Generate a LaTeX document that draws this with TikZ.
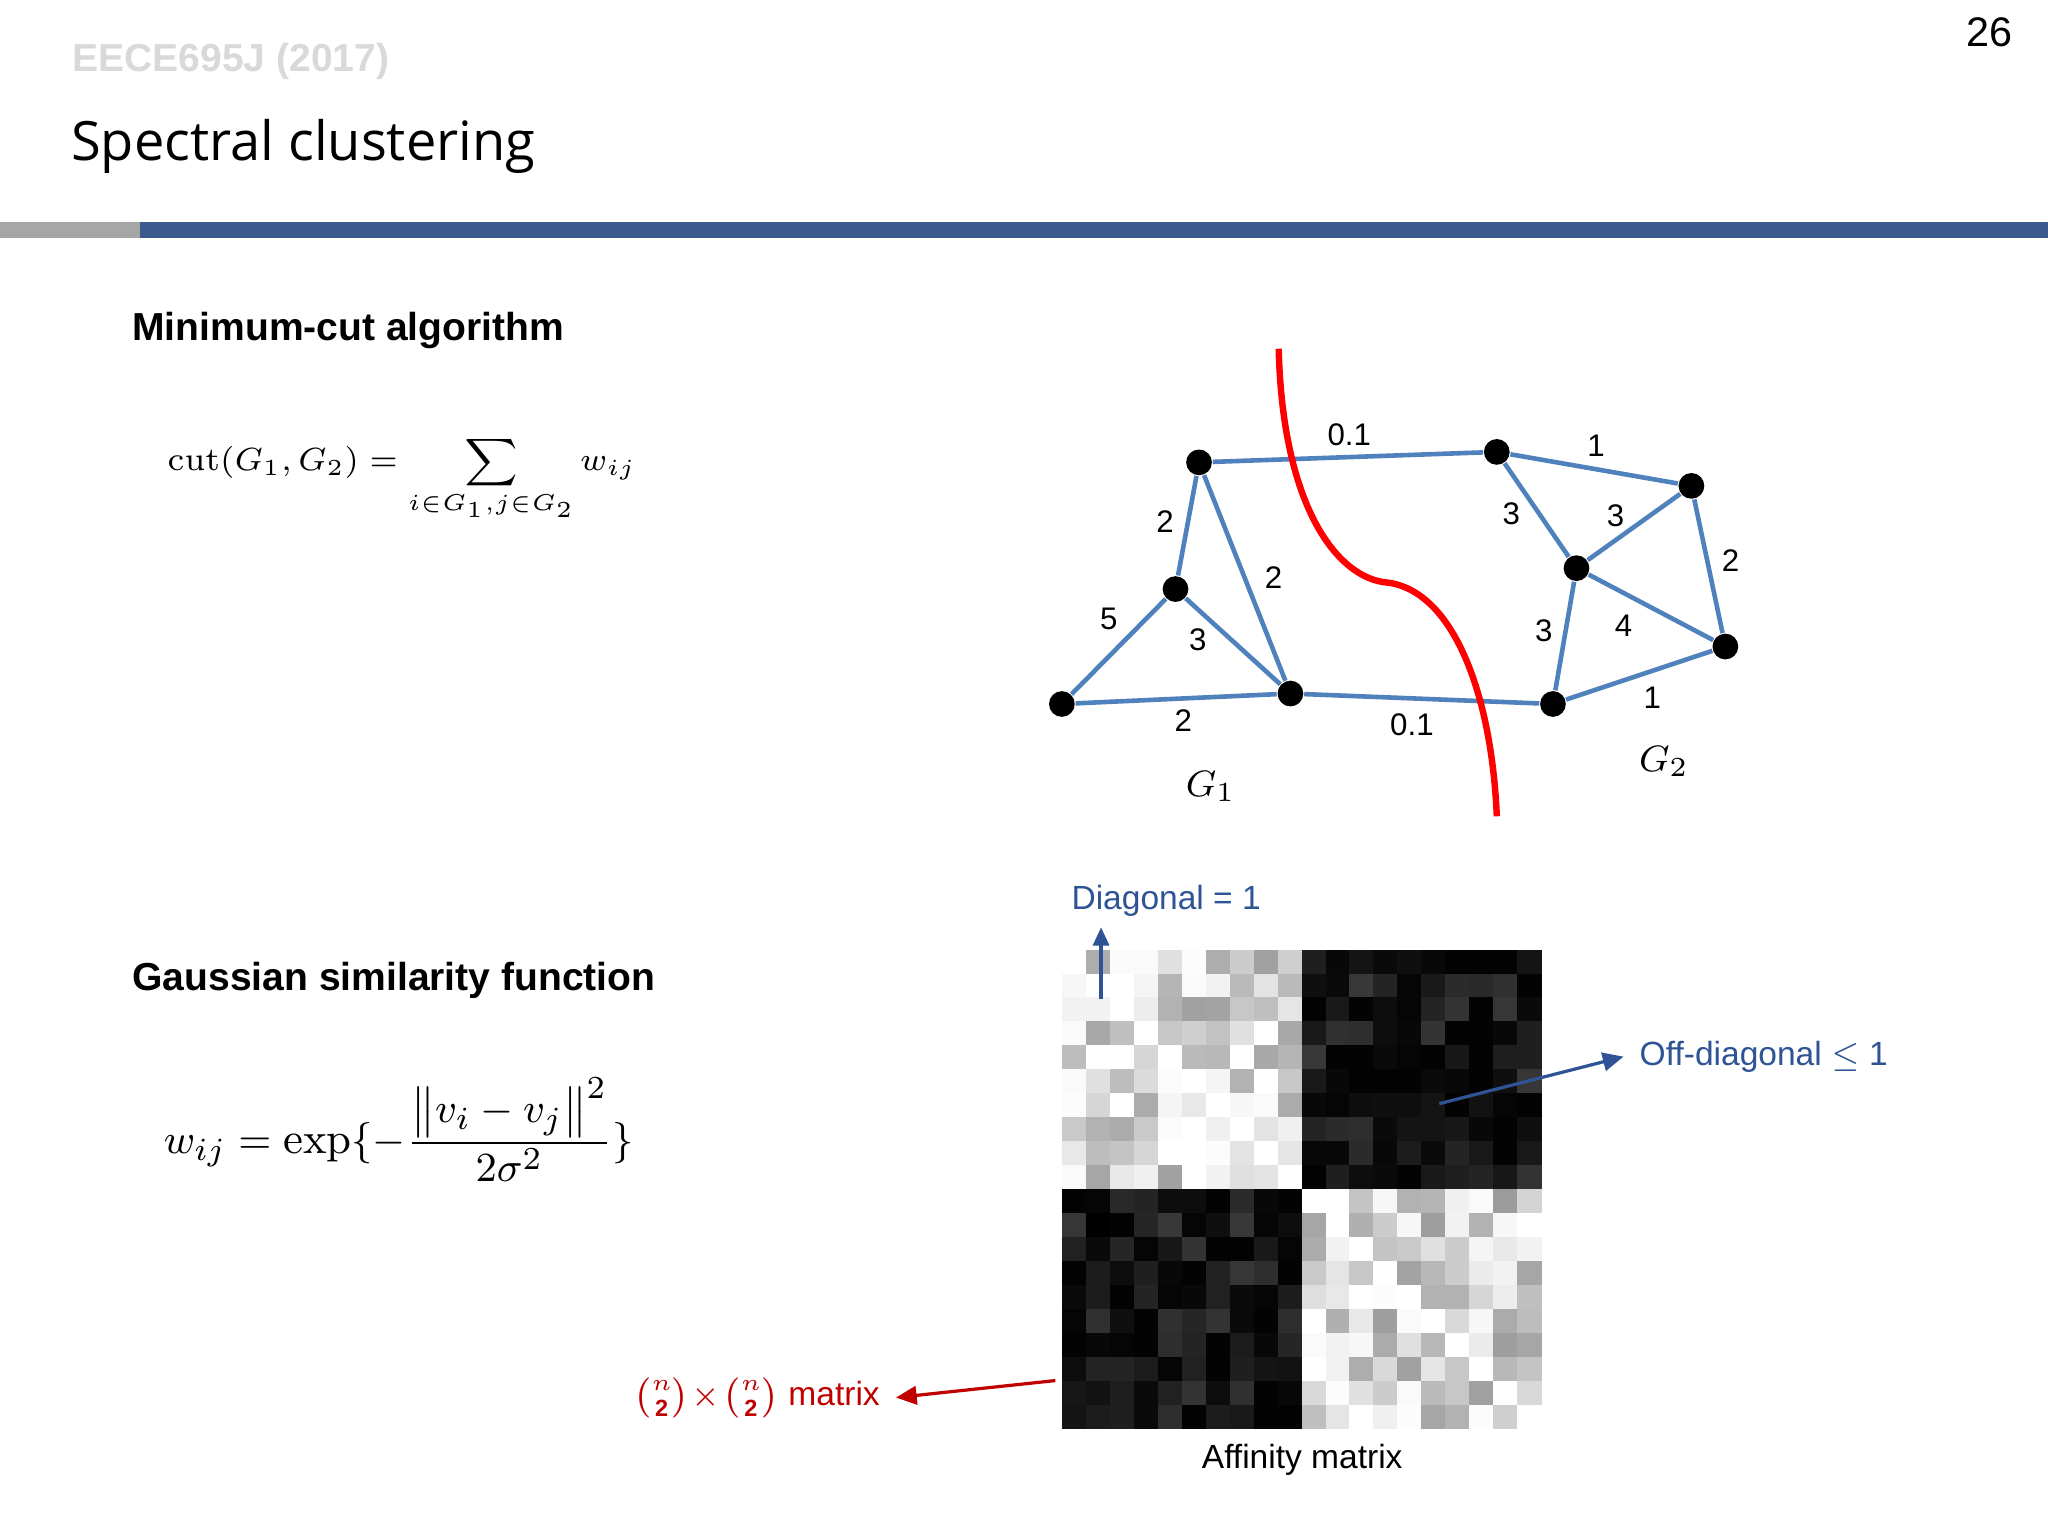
\documentclass[tikz,border=0pt]{standalone}
\usepackage{amsmath}
\usepackage{fontspec}
\setmainfont{Liberation Sans}
\newfontfamily\titlefont{Open Sans}
\newfontfamily\lmr{Latin Modern Roman}
\usetikzlibrary{arrows.meta}
\definecolor{gblue}{RGB}{79,129,189}
\definecolor{tblue}{RGB}{46,84,150}
\definecolor{barblue}{RGB}{59,89,140}
\definecolor{dred}{RGB}{192,0,0}
\tikzset{vtx/.style={circle,fill=black,inner sep=0pt,minimum size=5.6pt},
 edge/.style={gblue,line width=1pt},
 wlab/.style={font=\fontsize{6.8}{8}\selectfont},
 note/.style={font=\fontsize{7.3}{9}\selectfont}}
\begin{document}
\begin{tikzpicture}[x=0.01cm,y=-0.01cm]
\useasboundingbox (0,0) rectangle (1568,1176);
\fill[white] (0,0) rectangle (1568,1176);
\node[anchor=east,font=\fontsize{9}{11}\selectfont] (pg) at (1553,25) {26};
\node[anchor=west,text=black!15,font=\bfseries\fontsize{8.5}{10}\selectfont] (hd) at (43,47) {EECE695J (2017)};
\node[anchor=west,font=\titlefont\fontsize{11.8}{14}\selectfont] (tt) at (42,112) {Spectral clustering};
\fill[black!35] (0,170) rectangle (107,182);
\fill[barblue] (107,170) rectangle (1568,182);
\node[anchor=west,font=\bfseries\fontsize{8.5}{10}\selectfont] (h1) at (89,253) {Minimum-cut algorithm};
\node[anchor=west,font=\bfseries\fontsize{8.5}{10}\selectfont] (h2) at (89,751) {Gaussian similarity function};
\node[anchor=west,font=\fontsize{7.2}{9}\selectfont] (f1) at (116,367) {$\text{\lmr cut}(G_1,G_2)=\displaystyle\sum_{i\in G_1,j\in G_2} w_{ij}$};
\node[anchor=west,font=\fontsize{9.5}{11}\selectfont] (f2) at (113,865) {$w_{ij}=\text{\lmr exp}\{-\dfrac{\left\|v_i-v_j\right\|^2}{2\sigma^2}\}$};
% graph
\node[vtx] (A) at (918,354) {};
\node[vtx] (B) at (900,451) {};
\node[vtx] (C) at (813,539) {};
\node[vtx] (D) at (988,531) {};
\node[vtx] (E) at (1146,346) {};
\node[vtx] (F) at (1295,372) {};
\node[vtx] (G) at (1207,435) {};
\node[vtx] (H) at (1321,495) {};
\node[vtx] (I) at (1189,539) {};
\foreach \a/\b in {A/E,E/F,E/G,G/F,F/H,G/H,G/I,I/H,D/I,A/B,A/D,B/C,B/D,C/D}
  \draw[edge] (\a) -- (\b);
\foreach \t/\x/\y/\n in {0.1/1033/333/l1,1/1222/341/l2,3/1157/393/l3,3/1237/395/l4,2/1325/429/l5,4/1243/479/l6,3/1182/483/l7,1/1265/534/l8,0.1/1081/555/l9,2/892/399/l10,2/975/442/l11,5/849/474/l12,3/917/490/l13,2/906/552/l14}
  \node[wlab] (\n) at (\x,\y) {\t};
\node[font=\fontsize{8.5}{10}\selectfont] (g1) at (927,602) {$G_1$};
\node[font=\fontsize{8.5}{10}\selectfont] (g2) at (1274,583) {$G_2$};
\draw[red,line width=1.4pt] (979,267) .. controls (982,390) and (1025,443) .. (1062,446) .. controls (1112,452) and (1142,530) .. (1146,625);
% matrix
\pgfmathsetseed{7}
\foreach \i in {0,...,19}{
 \foreach \j in {0,...,19}{
  \pgfmathsetmacro\same{(\i<10)==(\j<10)}
  \ifnum\i=\j \def\v{0}\else
  \ifdim\same pt>0.5pt \pgfmathsetmacro\v{int(40*rnd^1.5)}\else\pgfmathsetmacro\v{int(100-22*rnd^2)}\fi\fi
  \fill[black!\v] (813+18.35*\j,727+18.35*\i) rectangle ++(18.6,18.6);
 }}
\node[note,text=tblue,anchor=west] (dg) at (808,690) {Diagonal = 1};
\coordinate (d0) at (843,765);
\coordinate (d1) at (843,710);
\draw[tblue,line width=0.7pt,-{Triangle[length=4pt,width=3.5pt]}] (d0) -- (d1);
\node[note,text=tblue,anchor=west] (od) at (1243,809) {Off-diagonal $\leq$ 1};
\coordinate (o0) at (1102,845);
\draw[tblue,line width=0.7pt,-{Triangle[length=4.5pt,width=4pt]}] (o0) -- (od.west);
\node[note,text=dred,anchor=east] (mx) at (686,1070) {$\binom{n}{\mathbf{2}}\!\times\!\binom{n}{\mathbf{2}}$ matrix};
\coordinate (m0) at (808,1057);
\draw[dred,line width=0.7pt,-{Triangle[length=4.5pt,width=4pt]}] (m0) -- (mx.east);
\node[note] (af) at (997,1118) {Affinity matrix};
\end{tikzpicture}
\end{document}
